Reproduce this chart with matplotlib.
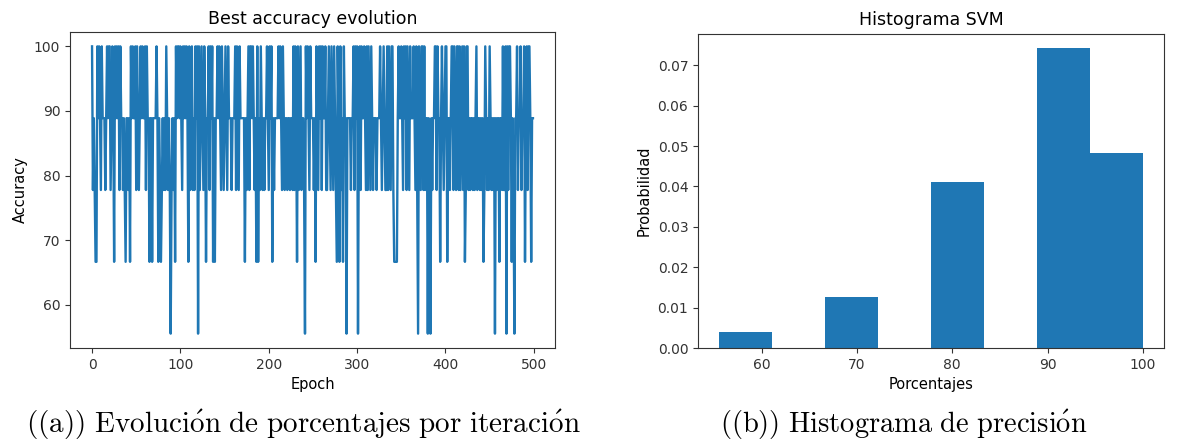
import matplotlib
matplotlib.use("Agg")
import matplotlib.pyplot as plt
import numpy as np

# correct predictions out of 9 test samples, one digit per epoch (10 epochs per group)
CORRECT_PER_EPOCH = (
    "9787669898 7988878989 9789869898 9798878768 8786989889 "
    "7987898988 9798868868 8889868767 8787987875 7878698998 "
    "9879898986 9789787989 5978987986 8897989686 8898987987 "
    "8987988878 8897987988 8886878979 9898786968 7987878898 "
    "7989687888 8989879878 8788788797 9869789788 7598987988 "
    "8786987989 7988977898 7987987698 6978698858 8887889798 "
    "9589798898 7979879878 8878889878 9877979879 9766668988 "
    "9879897987 9888987975 9879979788 5875878899 7988689878 "
    "9968878997 9879979789 7967997878 8787897887 8786798787 "
    "9878785878 8688797795 9799868758 8978897889 6897998688"
)
N_SAMPLES = 9
N_BINS = 8

accuracy = np.array([100 * int(c) / N_SAMPLES for c in CORRECT_PER_EPOCH if c != " "])
epochs = np.arange(len(accuracy))

plt.rcParams["mathtext.fontset"] = "cm"

fig = plt.figure(figsize=(11.81, 4.41), dpi=100)
ax1 = fig.add_axes([70 / 1181, 93 / 441, 485 / 1181, 316 / 441])
ax2 = fig.add_axes([698 / 1181, 93 / 441, 466 / 1181, 314.5 / 441])

ax1.plot(epochs, accuracy, color="#1f77b4", linewidth=1.7)
ax1.set_title("Best accuracy evolution", fontsize=12.5)
ax1.set_xlabel("Epoch", fontsize=10.5)
ax1.set_ylabel("Accuracy", fontsize=10.5)
ax1.set_xticks([0, 100, 200, 300, 400, 500])
ax1.set_yticks([60, 70, 80, 90, 100])

ax2.hist(accuracy, bins=N_BINS, density=True, color="#1f77b4")
ax2.set_title("Histograma SVM", fontsize=12.5)
ax2.set_xlabel("Porcentajes", fontsize=10.5)
ax2.set_ylabel("Probabilidad", fontsize=10.5)
ax2.set_xticks([60, 70, 80, 90, 100])

for ax in (ax1, ax2):
    ax.tick_params(labelsize=10, colors="#333333")
    for sp in ax.spines.values():
        sp.set_color("#333333")

fig.text(303 / 1181, 1 - 425 / 441,
         r"$\mathrm{((a))\ Evoluci\acute{o}n\ de\ porcentajes\ por\ iteraci\acute{o}n}$",
         ha="center", va="center", fontsize=21)
fig.text(904 / 1181, 1 - 425 / 441,
         r"$\mathrm{((b))\ Histograma\ de\ precisi\acute{o}n}$",
         ha="center", va="center", fontsize=20.5)

fig.savefig("out.png", dpi=100)
